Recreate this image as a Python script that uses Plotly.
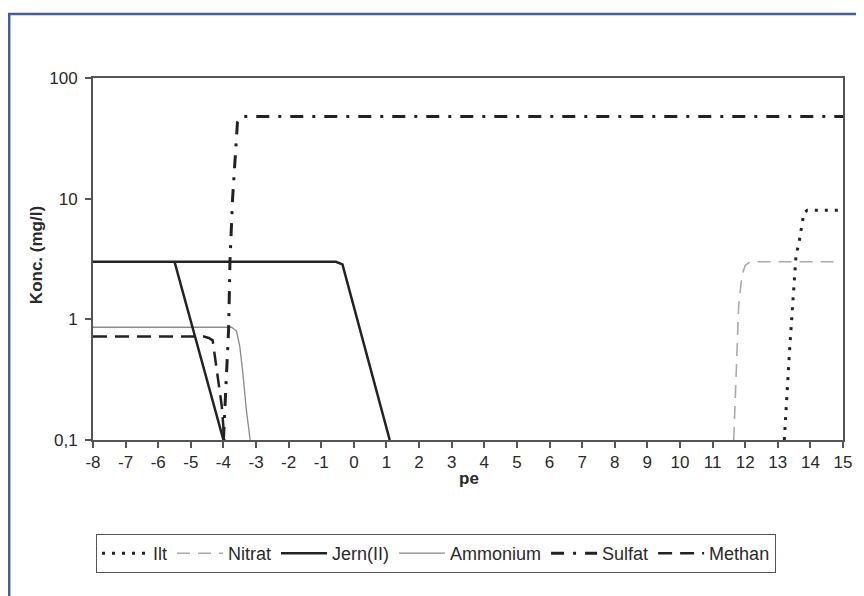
import plotly.graph_objects as go

# ---- data ----
ilt_pe = [13.2, 13.37, 13.56, 13.65, 13.8, 13.9, 14.9]
ilt_val = [0.1, 0.6, 3.4, 4.3, 7.6, 8.0, 8.0]

nitrat_pe = [11.65, 11.72, 11.8, 11.9, 12.0, 12.15, 14.9]
nitrat_val = [0.1, 0.4, 1.3, 2.3, 2.8, 3.0, 3.0]

jern_pe = [-8, -0.55, -0.35, 1.1]
jern_val = [3.0, 3.0, 2.85, 0.1]

jern2_pe = [-5.5, -4.0]
jern2_val = [3.0, 0.1]

ammonium_pe = [-8, -3.75, -3.6, -3.5, -3.4, -3.3, -3.18]
ammonium_val = [0.86, 0.86, 0.8, 0.6, 0.35, 0.18, 0.1]

sulfat_pe = [-4.0, -3.92, -3.84, -3.8, -3.72, -3.57, -3.45, 15]
sulfat_val = [0.1, 0.3, 0.85, 3.0, 10, 43, 48, 48]

methan_pe = [-8, -4.6, -4.45, -4.33, -4.05, -3.97]
methan_val = [0.72, 0.72, 0.7, 0.67, 0.19, 0.1]

x_ticks = list(range(-8, 16))
y_tickvals = [0.1, 1, 10, 100]
y_ticktext = ["0,1", "1", "10", "100"]

FONT = "Liberation Sans, Arial, sans-serif"
TXT = "#2a2a2a"

fig = go.Figure()

fig.add_trace(go.Scatter(x=ilt_pe, y=ilt_val, mode="lines", name="Ilt",
                         line=dict(color="#222", width=3, dash="3px,7px")))
fig.add_trace(go.Scatter(x=nitrat_pe, y=nitrat_val, mode="lines", name="Nitrat",
                         line=dict(color="#aaaaaa", width=1.6, dash="13px,8px")))
fig.add_trace(go.Scatter(x=jern_pe, y=jern_val, mode="lines", name="Jern(II)",
                         line=dict(color="#222", width=2.5)))
fig.add_trace(go.Scatter(x=ammonium_pe, y=ammonium_val, mode="lines", name="Ammonium",
                         line=dict(color="#8a8a8a", width=1.3)))
fig.add_trace(go.Scatter(x=sulfat_pe, y=sulfat_val, mode="lines", name="Sulfat",
                         line=dict(color="#222", width=3, dash="13px,9px,3px,9px")))
fig.add_trace(go.Scatter(x=methan_pe, y=methan_val, mode="lines", name="Methan",
                         line=dict(color="#222", width=2.5, dash="14px,8px")))
fig.add_trace(go.Scatter(x=jern2_pe, y=jern2_val, mode="lines", name="Jern(II)",
                         showlegend=False, line=dict(color="#222", width=2.5)))

# page has an 8px body margin; the figure is drawn at (8, 8)
OFF = 8
FW, FH = 864 - OFF, 596 - OFF
# plot area in page pixels: x 93..845, y 78..440
L, R, T, B = 93, 845, 78, 440
W, H = R - L, B - T

def px(x):
    return (x - L) / W

def py(y):
    return 1 - (y - T) / H

fig.update_layout(
    width=FW, height=FH,
    margin=dict(l=L - OFF, r=FW - (R - OFF), t=T - OFF, b=FH - (B - OFF)),
    paper_bgcolor="white", plot_bgcolor="white",
    font=dict(family=FONT, size=17, color=TXT),
    showlegend=True,
    legend=dict(orientation="h", x=px(96), xanchor="left", y=py(534), yanchor="top",
                bordercolor="#555", borderwidth=1, bgcolor="white",
                font=dict(family=FONT, size=18, color=TXT),
                itemwidth=46, tracegroupgap=0),
    xaxis=dict(range=[-8, 15], tickmode="array", tickvals=x_ticks,
               ticktext=[str(v) for v in x_ticks],
               showgrid=False, zeroline=False, showline=True, linecolor="#555",
               linewidth=2, mirror=True, ticks="outside", ticklen=6, tickwidth=1.5,
               tickcolor="#555", tickfont=dict(family=FONT, size=17, color=TXT)),
    yaxis=dict(type="log", range=[-1, 2], tickmode="array", tickvals=y_tickvals,
               ticktext=y_ticktext, showgrid=False, zeroline=False, showline=True,
               linecolor="#555", linewidth=2, mirror=True, ticks="outside", ticklen=6,
               tickwidth=1.5, tickcolor="#555", ticklabelstandoff=4,
               tickfont=dict(family=FONT, size=17, color=TXT)),
    annotations=[
        dict(text="<b>pe</b>", xref="paper", yref="paper", x=px(470), y=py(478),
             xanchor="center", yanchor="middle",
             showarrow=False, font=dict(family=FONT, size=17, color=TXT)),
        dict(text="<b>Konc. (mg/l)</b>", xref="paper", yref="paper", x=px(36), y=py(255),
             xanchor="center", yanchor="middle",
             textangle=-90, showarrow=False, font=dict(family=FONT, size=17, color=TXT)),
    ],
    shapes=[
        dict(type="line", xref="paper", yref="paper", x0=px(9), x1=px(9),
             y0=py(13), y1=py(610), line=dict(color="#3f5fa8", width=2.5)),
        dict(type="line", xref="paper", yref="paper", x0=px(8), x1=px(880),
             y0=py(14), y1=py(14), line=dict(color="#3f5fa8", width=2.5)),
    ],
)

fig.write_html("out.html")
